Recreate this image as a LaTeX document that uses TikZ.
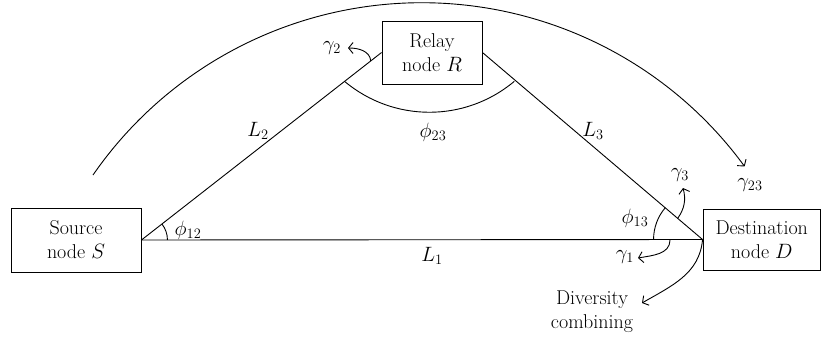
\documentclass[tikz,border=0pt]{standalone}
\usetikzlibrary{arrows.meta,angles,calc}
\begin{document}
\begin{tikzpicture}[x=1pt,y=1pt,
  every node/.style={font=\fontsize{20}{24}\selectfont},
  box/.style={draw, line width=0.9pt, align=center, inner sep=0pt},
  ln/.style={line width=0.9pt},
  arr/.style={line width=0.9pt, -{Straight Barb[length=4.5pt,width=11pt]}},
  lbl/.style={inner sep=1pt}
  ]
\useasboundingbox (0,0) rectangle (822,341);
% boxes
\node[box, minimum width=130pt, minimum height=64pt] (S) at (76,101) {Source\\node $S$};
\node[box, minimum width=100pt, minimum height=63pt] (R) at (432,288.5) {Relay\\node $R$};
\node[box, minimum width=117.5pt, minimum height=61pt] (D) at (761.75,101.5) {Destination\\node $D$};
\coordinate (s) at (S.east);
\coordinate (d) at (D.west);
\coordinate (rl) at (R.west);
\coordinate (rr) at (R.east);
% triangle
\draw[ln] (s) -- (d);
\draw[ln] (s) -- (rl);
\draw[ln] (rr) -- (d);
% angles
\pic[draw, ln, angle radius=26pt] {angle = d--s--rl};
\pic[draw, ln, angle radius=49pt] {angle = rr--d--s};
\coordinate (a1) at ($(s)!0.846!(rl)$);
\draw[ln] (a1) arc[start angle=230, end angle=310, radius=132];
% big arc
\coordinate (t0) at (93,166);
\draw[arr] (t0) arc[start angle=145.3, end angle=36.2, radius=400];
% gamma arrows
\coordinate (g2s) at ($(s)!0.955!(rl)$);
\coordinate (g2e) at (348,293);
\draw[arr] (g2s) to[out=95,in=0] (g2e);
\coordinate (g3s) at ($(d)!0.113!(rr)$);
\coordinate (g3e) at (683,153);
\draw[arr] (g3s) to[out=55,in=-75] (g3e);
\coordinate (g1s) at (670,101);
\coordinate (g1e) at (638,83);
\draw[arr] (g1s) to[out=-90,in=10] (g1e);
\coordinate (dce) at (642,38);
\draw[arr] (d) to[out=-95,in=30] (dce);
% labels
\node[lbl] (lL1) at (432,85) {$L_1$};
\node[lbl] (lL2) at (258,210) {$L_2$};
\node[lbl] (lL3) at (593,210) {$L_3$};
\node[lbl] (lp23) at (433,209) {$\phi_{23}$};
\node[lbl] (lp12) at (188,111) {$\phi_{12}$};
\node[lbl] (lp13) at (635,123) {$\phi_{13}$};
\node[lbl] (lg2) at (332,293) {$\gamma_2$};
\node[lbl] (lg3) at (680,166) {$\gamma_3$};
\node[lbl] (lg1) at (625,84) {$\gamma_1$};
\node[lbl] (lg23) at (750,156) {$\gamma_{23}$};
\node[lbl, align=center] (ldc) at (592,29) {Diversity\\combining};
\end{tikzpicture}
\end{document}
